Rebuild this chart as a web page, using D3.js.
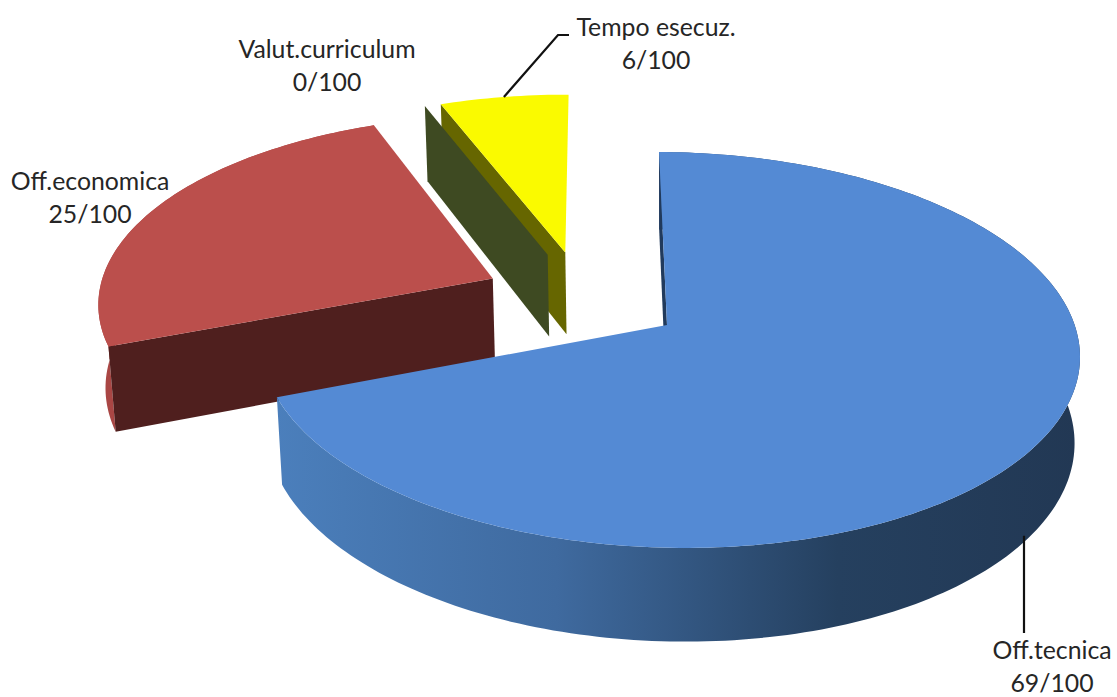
<!DOCTYPE html>
<html>
<head>
<meta charset="utf-8">
<script src="https://cdn.jsdelivr.net/npm/d3@7/dist/d3.min.js"></script>
<style>
html, body { margin: 0; padding: 0; background: #fff; }
text { font-family: Lato, "Open Sans", sans-serif; font-size: 24.8px; fill: #262626; }
</style>
</head>
<body>
<div id="chart"></div>
<script>
var categories = ["Off.tecnica", "Off.economica", "Valut.curriculum", "Tempo esecuz."];
var scores = [69, 25, 0, 6];
var maxScore = 100;

var topColors = ["#548ad4", "#bb4f4c", "#3e4a22", "#fafa00"];
var rimColors = ["url(#blueRim)", "#a94644", "#3e4a22", "#fafa00"];
var wallColors = ["#213a5c", "#4f1f1e", "#3e4a22", "#666600"];

var width = 1117, height = 697;

// perspective of the tilted disc
var view = {x0: 667, y0: 325, a: 406, b: 194.8, d: 86, p: 0.126, q: 0.013, s: 0.006, skewX: 0.022, skewY: 2.5};
var hub = {u: -0.2076, v: -0.1411};
var explode = 0.251;

function project(u, v, z) {
  var w = 1 - view.p * v - view.s * u + view.q * z;
  return [
    view.x0 + view.a * (u + view.skewX * v) / w,
    view.y0 + (view.b * v + view.skewY * u + view.d * z) / w
  ];
}

// a point of one exploded slice: r from its tip, at angle a clockwise from the top
function slicePoint(s, r, a, z) {
  var mid = (s.startAngle + s.endAngle) / 2;
  return project(
    hub.u + explode * Math.sin(mid) + r * Math.sin(a),
    hub.v - explode * Math.cos(mid) - r * Math.cos(a),
    z);
}

function arcAngles(s) {
  var n = Math.max(2, Math.ceil((s.endAngle - s.startAngle) / 0.02));
  return d3.range(n + 1).map(function(i) {
    return s.startAngle + (s.endAngle - s.startAngle) * i / n;
  });
}

var line = d3.line();

var pie = d3.pie().sort(null).value(function(d) { return d; });
var slices = pie(scores);
slices.forEach(function(s, i) { s.i = i; });

var svg = d3.select("#chart").append("svg")
  .attr("width", width)
  .attr("height", height)
  .style("display", "block");

var grad = svg.append("defs").append("linearGradient")
  .attr("id", "blueRim")
  .attr("gradientUnits", "userSpaceOnUse")
  .attr("x1", 275).attr("x2", 1079)
  .attr("y1", 0).attr("y2", 0);
grad.append("stop").attr("offset", "0%").attr("stop-color", "#4b7fbc");
grad.append("stop").attr("offset", "35%").attr("stop-color", "#3f6a9f");
grad.append("stop").attr("offset", "70%").attr("stop-color", "#25405f");
grad.append("stop").attr("offset", "100%").attr("stop-color", "#223854");

// back slices first, the big one goes on top
var order = [3, 2, 1, 0];

var groups = svg.selectAll("g.slice")
  .data(order.map(function(i) { return slices[i]; }))
  .enter().append("g")
  .attr("class", "slice");

// round rim, only for slices that reach the front half of the disc
groups.filter(function(s) { return s.endAngle > s.startAngle && s.startAngle < 1.5 * Math.PI; })
  .append("path")
  .attr("fill", function(s) { return rimColors[s.i]; })
  .attr("d", function(s) {
    var as = arcAngles(s);
    var top = as.map(function(a) { return slicePoint(s, 1, a, 0); });
    var bottom = as.slice().reverse().map(function(a) { return slicePoint(s, 1, a, 1); });
    return line(top.concat(bottom)) + "Z";
  });

// straight wall at the start edge, this is the one that faces the viewer
groups.append("path")
  .attr("fill", function(s) { return wallColors[s.i]; })
  .attr("d", function(s) {
    return line([
      slicePoint(s, 0, s.startAngle, 0),
      slicePoint(s, 1, s.startAngle, 0),
      slicePoint(s, 1, s.startAngle, 1),
      slicePoint(s, 0, s.startAngle, 1)
    ]) + "Z";
  });

// top face
groups.filter(function(s) { return s.endAngle > s.startAngle; }).append("path")
  .attr("fill", function(s) { return topColors[s.i]; })
  .attr("d", function(s) {
    var pts = [slicePoint(s, 0, s.startAngle, 0)];
    arcAngles(s).forEach(function(a) { pts.push(slicePoint(s, 1, a, 0)); });
    return line(pts) + "Z";
  });

function midPoint(i, z) {
  var s = slices[i];
  return slicePoint(s, 1, (s.startAngle + s.endAngle) / 2, z);
}

// leader lines
var yellowStart = midPoint(3, 0);
var blueStart = midPoint(0, 1);
var leaders = [
  [yellowStart, [558, 35], [569, 35]],
  [[1024, blueStart[1]], [1024, 633]]
];
svg.selectAll("path.leader")
  .data(leaders)
  .enter().append("path")
  .attr("class", "leader")
  .attr("fill", "none")
  .attr("stroke", "#111")
  .attr("stroke-width", 2.2)
  .attr("d", function(d) { return line(d); });

// labels
var labelX = [1052, 90, 327, 656];
var labelY = [659, 190, 58, 36];

var labels = svg.selectAll("text.label")
  .data(categories)
  .enter().append("text")
  .attr("class", "label")
  .attr("text-anchor", "middle")
  .attr("x", function(d, i) { return labelX[i]; })
  .attr("y", function(d, i) { return labelY[i]; });
labels.append("tspan")
  .attr("x", function(d, i) { return labelX[i]; })
  .text(function(d) { return d; });
labels.append("tspan")
  .attr("x", function(d, i) { return labelX[i]; })
  .attr("dy", 32.5)
  .text(function(d, i) { return scores[i] + "/" + maxScore; });
</script>
</body>
</html>
